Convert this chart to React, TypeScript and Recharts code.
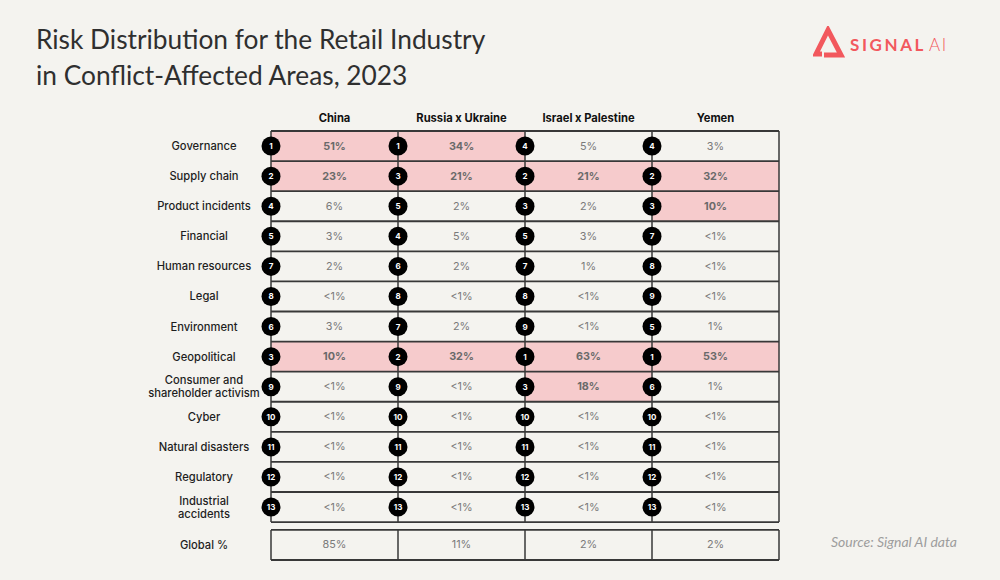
import { ScatterChart, Scatter, XAxis, YAxis, ReferenceArea, ReferenceLine } from 'recharts';

const regions = ['China', 'Russia x Ukraine', 'Israel x Palestine', 'Yemen'];

const risks = [
    'Governance',
    'Supply chain',
    'Product incidents',
    'Financial',
    'Human resources',
    'Legal',
    'Environment',
    'Geopolitical',
    'Consumer and\nshareholder activism',
    'Cyber',
    'Natural disasters',
    'Regulatory',
    'Industrial\naccidents',
];

// share of risk in %, 0.5 stands for "<1%"
const chinaShare = [51, 23, 6, 3, 2, 0.5, 3, 10, 0.5, 0.5, 0.5, 0.5, 0.5];
const russiaUkraineShare = [34, 21, 2, 5, 2, 0.5, 2, 32, 0.5, 0.5, 0.5, 0.5, 0.5];
const israelPalestineShare = [5, 21, 2, 3, 1, 0.5, 0.5, 63, 18, 0.5, 0.5, 0.5, 0.5];
const yemenShare = [3, 32, 10, 0.5, 0.5, 0.5, 1, 53, 1, 0.5, 0.5, 0.5, 0.5];

// rank of each risk inside the region
const chinaRank = [1, 2, 4, 5, 7, 8, 6, 3, 9, 10, 11, 12, 13];
const russiaUkraineRank = [1, 3, 5, 4, 6, 8, 7, 2, 9, 10, 11, 12, 13];
const israelPalestineRank = [4, 2, 3, 5, 7, 8, 9, 1, 3, 10, 11, 12, 13];
const yemenRank = [4, 2, 3, 7, 8, 9, 5, 1, 6, 10, 11, 12, 13];

const globalShare = [85, 11, 2, 2];

const HIGHLIGHT_AT = 10;
const GAP = 0.26; // space between table and global row, in rows

const shares = [chinaShare, russiaUkraineShare, israelPalestineShare, yemenShare];
const ranks = [chinaRank, russiaUkraineRank, israelPalestineRank, yemenRank];

const nRows = risks.length;
const globalTop = nRows + GAP;
const globalMid = globalTop + 0.5;

const fmt = (v: number) => (v < 1 ? '<1%' : `${v}%`);

const valueCells = shares.flatMap((col, c) =>
    col.map((v, r) => ({ x: c + 0.5, y: r + 0.5, v, hi: v >= HIGHLIGHT_AT })),
);
const rankDots = ranks.flatMap((col, c) => col.map((rank, r) => ({ x: c, y: r + 0.5, rank })));
const globalCells = globalShare.map((v, c) => ({ x: c + 0.5, y: globalMid, v, hi: false }));

const FONT = 'Inter, "Noto Sans", sans-serif';
const LINE = '#383838';
const PINK = '#f6cbcc';
const BRAND = '#f2585d';

const ValueText = (props: any) => {
    const { cx, cy, payload } = props;
    return (
        <text
            x={cx}
            y={cy}
            textAnchor="middle"
            dominantBaseline="central"
            fontFamily={FONT}
            fontSize={10.8}
            fontWeight={payload.hi ? 700 : 400}
            fill={payload.hi ? '#6a6a6a' : '#7a7a7a'}
        >
            {fmt(payload.v)}
        </text>
    );
};

const RankDot = (props: any) => {
    const { cx, cy, payload } = props;
    return (
        <g>
            <circle cx={cx} cy={cy} r={9.5} fill="#000" />
            <text
                x={cx}
                y={cy}
                textAnchor="middle"
                dominantBaseline="central"
                fontFamily={FONT}
                fontSize={8}
                fontWeight={700}
                fill="#fff"
            >
                {payload.rank}
            </text>
        </g>
    );
};

const RowTick = (props: any) => {
    const { x, y, payload } = props;
    const idx = payload.value === globalMid ? nRows : Math.floor(payload.value);
    const label = idx === nRows ? 'Global %' : risks[idx];
    const lines = label.split('\n');
    const first = -((lines.length - 1) * 13) / 2;
    return (
        <text
            x={x}
            y={y}
            textAnchor="middle"
            fontFamily={FONT}
            fontSize={11.2}
            fontWeight={500}
            fill="#1e1e1e"
        >
            {lines.map((l: string, i: number) => (
                <tspan key={i} x={x} dy={i === 0 ? first : 13} dominantBaseline="central">
                    {l}
                </tspan>
            ))}
        </text>
    );
};

const Logo = () => (
    <div style={{ position: 'absolute', left: 813, top: 26, display: 'flex', alignItems: 'center' }}>
        <svg width={32} height={32} viewBox="0 0 32 32">
            <polyline
                points="9,28 3,28 15,4 28,29 11,29"
                fill="none"
                stroke={BRAND}
                strokeWidth={5}
                strokeLinejoin="miter"
            />
        </svg>
        <span
            style={{
                marginLeft: 5,
                marginTop: 4,
                color: BRAND,
                fontFamily: 'Lato, sans-serif',
                fontSize: 17,
                letterSpacing: 2.6,
                fontWeight: 700,
            }}
        >
            SIGNAL
        </span>
        <span
            style={{
                marginLeft: 3,
                marginTop: 4,
                color: BRAND,
                fontFamily: 'Lato, sans-serif',
                fontSize: 17,
                letterSpacing: 1.5,
                fontWeight: 300,
            }}
        >
            AI
        </span>
    </div>
);

export default function App() {
    return (
        <div
            style={{
                position: 'absolute',
                left: 0,
                top: 0,
                width: 1000,
                height: 580,
                background: '#f4f3ef',
                overflow: 'hidden',
            }}
        >
            <div
                style={{
                    position: 'absolute',
                    left: 36,
                    top: 21,
                    fontFamily: 'Lato, sans-serif',
                    fontSize: 26.3,
                    lineHeight: '36px',
                    color: '#2f2f2f',
                }}
            >
                Risk Distribution for the Retail Industry
                <br />
                in Conflict-Affected Areas, 2023
            </div>
            <Logo />
            <div
                style={{
                    position: 'absolute',
                    left: 831,
                    top: 533,
                    fontFamily: 'Lato, sans-serif',
                    fontStyle: 'italic',
                    fontSize: 14,
                    color: '#9d9d9d',
                }}
            >
                Source: Signal AI data
            </div>

            <ScatterChart
                width={1000}
                height={580}
                margin={{ top: 101, right: 221, bottom: 20, left: 0 }}
                style={{ position: 'absolute', left: 0, top: 0 }}
            >
                <XAxis
                    type="number"
                    dataKey="x"
                    xAxisId={0}
                    orientation="top"
                    height={30}
                    domain={[0, regions.length]}
                    ticks={regions.map((_, i) => i + 0.5)}
                    interval={0}
                    tickFormatter={(v: number) => regions[Math.floor(v)]}
                    tickLine={false}
                    axisLine={false}
                    tickSize={0}
                    tickMargin={9}
                    tick={{ fontFamily: FONT, fontSize: 11.2, fontWeight: 700, fill: '#111' }}
                />
                <YAxis
                    type="number"
                    dataKey="y"
                    yAxisId={0}
                    width={271}
                    reversed
                    domain={[0, globalTop + 1]}
                    ticks={[...risks.map((_, i) => i + 0.5), globalMid]}
                    interval={0}
                    tickLine={false}
                    axisLine={false}
                    tickSize={0}
                    tickMargin={67}
                    tick={<RowTick />}
                />

                {shares.flatMap((col, c) =>
                    col.map((v, r) =>
                        v >= HIGHLIGHT_AT ? (
                            <ReferenceArea
                                key={`hl-${c}-${r}`}
                                x1={c}
                                x2={c + 1}
                                y1={r}
                                y2={r + 1}
                                fill={PINK}
                                fillOpacity={1}
                                stroke="none"
                            />
                        ) : null,
                    ),
                )}

                {Array.from({ length: nRows + 1 }, (_, r) => (
                    <ReferenceLine
                        key={`h-${r}`}
                        segment={[
                            { x: 0, y: r },
                            { x: regions.length, y: r },
                        ]}
                        stroke={LINE}
                        strokeWidth={1.8}
                    />
                ))}
                {Array.from({ length: regions.length + 1 }, (_, c) => (
                    <ReferenceLine
                        key={`v-${c}`}
                        segment={[
                            { x: c, y: 0 },
                            { x: c, y: nRows },
                        ]}
                        stroke={LINE}
                        strokeWidth={1.5}
                    />
                ))}

                {[globalTop, globalTop + 1].map((y) => (
                    <ReferenceLine
                        key={`gh-${y}`}
                        segment={[
                            { x: 0, y },
                            { x: regions.length, y },
                        ]}
                        stroke={LINE}
                        strokeWidth={1.8}
                    />
                ))}
                {Array.from({ length: regions.length + 1 }, (_, c) => (
                    <ReferenceLine
                        key={`gv-${c}`}
                        segment={[
                            { x: c, y: globalTop },
                            { x: c, y: globalTop + 1 },
                        ]}
                        stroke={LINE}
                        strokeWidth={1.5}
                    />
                ))}

                <Scatter data={valueCells} shape={<ValueText />} isAnimationActive={false} />
                <Scatter data={globalCells} shape={<ValueText />} isAnimationActive={false} />
                <Scatter data={rankDots} shape={<RankDot />} isAnimationActive={false} />
            </ScatterChart>
        </div>
    );
}
